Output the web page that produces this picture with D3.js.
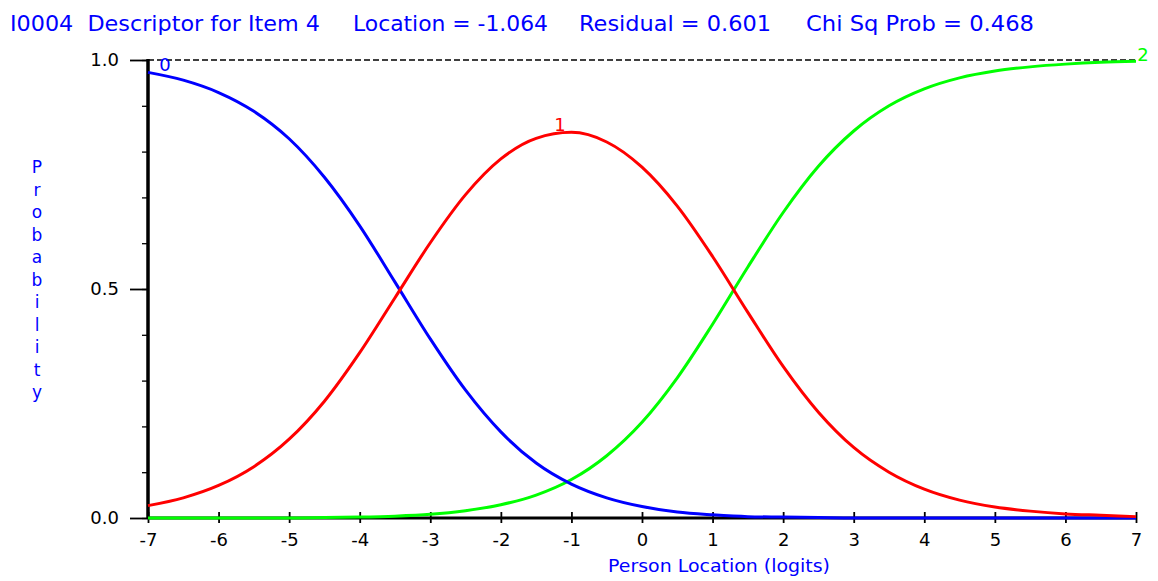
<!DOCTYPE html>
<html>
<head>
<meta charset="utf-8">
<script src="https://cdn.jsdelivr.net/npm/d3@7"></script>
<style>
body{margin:0;background:#fff;}
svg{display:block;}
</style>
</head>
<body>
<svg id="canvas" width="1158" height="581"></svg>
<script>
// person locations (logits) and category probabilities
let xs=[-7,-6.5,-6,-5.5,-5,-4.5,-4,-3.5,-3,-2.5,-2,-1.5,-1,-0.5,0,0.5,1,1.5,2,2.5,3,3.5,4,4.5,5,5.5,6,6.5,7];
let cat0=[.973,.956,.929,.888,.828,.744,.638,.515,.391,.279,.188,.120,.074,.044,.025,.013,.007,.003,.002,.001,0,0,0,0,0,0,0,0,0];
let cat1=[.027,.044,.071,.112,.172,.255,.361,.481,.601,.706,.784,.829,.842,.821,.766,.681,.571,.449,.331,.231,.154,.100,.063,.039,.024,.015,.009,.006,.003];
let cat2=[0,0,0,0,0,.001,.002,.004,.008,.016,.029,.050,.084,.136,.209,.306,.423,.548,.667,.768,.845,.900,.937,.961,.976,.985,.991,.995,.997];
let xTicks=[-7,-6,-5,-4,-3,-2,-1,0,1,2,3,4,5,6,7];
let yMajor=[0,0.5,1];
let yMinor=[0,.1,.2,.3,.4,.5,.6,.7,.8,.9,1];
let titleParts=["I0004  Descriptor for Item 4","Location = -1.064","Residual = 0.601","Chi Sq Prob = 0.468"];

let svg=d3.select("#canvas");
let font="DejaVu Sans, sans-serif";

let x=d3.scaleLinear().domain([-7,7]).range([148,1136]);
let y=d3.scaleLinear().domain([0,1]).range([518,60]);

// title
let tX=[10,353,579,806],tW=[310,195,192,228];
svg.selectAll(".ttl").data(titleParts).enter().append("text").attr("class","ttl")
  .attr("x",(d,i)=>tX[i]).attr("y",31).attr("textLength",(d,i)=>tW[i]).attr("lengthAdjust","spacingAndGlyphs")
  .style("font",`22px ${font}`).attr("fill","#0000ff").attr("xml:space","preserve").text(d=>d);

// dashed top line
svg.append("line").attr("x1",x(-7)).attr("x2",x(7)).attr("y1",y(1)).attr("y2",y(1))
  .attr("stroke","#000").attr("stroke-width",1.3).attr("stroke-dasharray","6,3");

// y axis minor + major
let yMin=svg.append("g").attr("transform",`translate(${x(-7)},0)`)
  .call(d3.axisLeft(y).tickValues(yMinor).tickSize(6).tickFormat(""));
yMin.select(".domain").remove();
yMin.selectAll("line").attr("stroke","#000").attr("stroke-width",1.3);

let yMaj=svg.append("g").attr("transform",`translate(${x(-7)},0)`)
  .call(d3.axisLeft(y).tickValues(yMajor).tickSize(18).tickPadding(11).tickFormat(d3.format(".1f")));
yMaj.select(".domain").remove();
yMaj.selectAll("line").attr("stroke","#000").attr("stroke-width",1.8);
yMaj.selectAll("text").style("font",`18px ${font}`).attr("fill","#000");

svg.append("line").attr("x1",x(-7)).attr("x2",x(-7)).attr("y1",y(1)-1).attr("y2",y(0)+1)
  .attr("stroke","#000").attr("stroke-width",3.5);

// x axis
let xAx=svg.append("g").attr("transform",`translate(0,${y(0)})`)
  .call(d3.axisBottom(x).tickValues(xTicks).tickSize(5).tickPadding(10).tickFormat(d=>String(d)));
xAx.select(".domain").remove();
xAx.selectAll("line").attr("y1",-6).attr("y2",5).attr("stroke","#000").attr("stroke-width",1.8);
xAx.selectAll("text").style("font",`18px ${font}`).attr("fill","#000");
svg.append("line").attr("x1",x(-7)).attr("x2",x(7)).attr("y1",y(0)).attr("y2",y(0))
  .attr("stroke","#000").attr("stroke-width",3);

// axis titles
svg.append("text").attr("x",608).attr("y",572).attr("textLength",222).attr("lengthAdjust","spacingAndGlyphs")
  .style("font",`18px ${font}`).attr("fill","#0000ff").text("Person Location (logits)");
svg.selectAll(".ylab").data("Probability".split("")).enter().append("text").attr("class","ylab")
  .attr("x",37).attr("y",(d,i)=>173+i*22.5).attr("text-anchor","middle")
  .style("font",`17px ${font}`).attr("fill","#0000ff").text(d=>d);

// curves
let line=d3.line().x(d=>x(d[0])).y(d=>y(d[1])).curve(d3.curveMonotoneX);
let series=[{v:cat2,c:"#00ff00"},{v:cat0,c:"#0000ff"},{v:cat1,c:"#ff0000"}];
series.forEach(s=>{
  svg.append("path").datum(xs.map((d,i)=>[d,s.v[i]])).attr("d",line)
    .attr("fill","none").attr("stroke",s.c).attr("stroke-width",3);
});

// category labels
let labs=[{t:"0",x:165,y:71,c:"#0000ff"},{t:"1",x:560,y:131,c:"#ff0000"},{t:"2",x:1143,y:61,c:"#00ff00"}];
svg.selectAll(".clab").data(labs).enter().append("text").attr("class","clab")
  .attr("x",d=>d.x).attr("y",d=>d.y).attr("text-anchor","middle")
  .style("font",`18px ${font}`).attr("fill",d=>d.c).text(d=>d.t);
</script>
</body>
</html>
